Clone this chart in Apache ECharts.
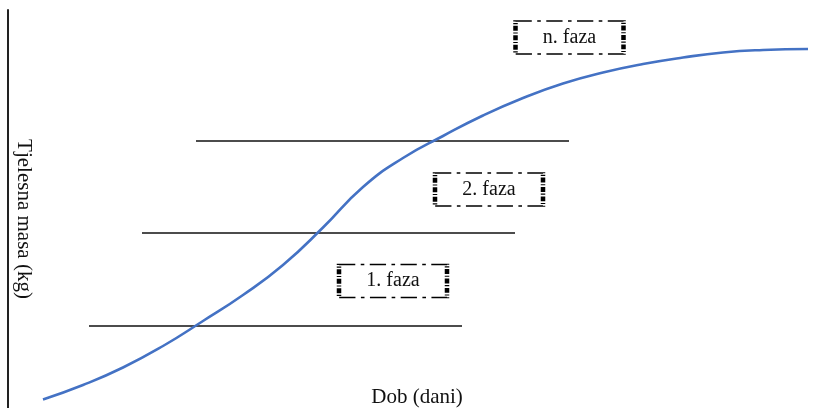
<!DOCTYPE html>
<html>
<head>
<meta charset="utf-8">
<script src="https://cdn.jsdelivr.net/npm/echarts@6/dist/echarts.min.js"></script>
<style>
html,body{margin:0;padding:0;background:#fff;}
#c{width:826px;height:408px;}
</style>
</head>
<body>
<div id="c"></div>
<script>
// Growth curve: age (x) vs body mass (y), arbitrary units
const curveAge  = [35, 75, 115, 155, 195, 235, 275, 315, 355, 395, 435, 475, 515, 555, 595, 635, 675, 715, 755, 800];
const curveMass = [8.5, 23, 40.5, 62, 87, 113, 143, 180.5, 221, 250, 272, 292.5, 310, 324.5, 335.5, 344, 350.5, 355.5, 358, 359];

// Horizontal phase lines: [startAge, endAge, mass]
const phaseLineStart = [81, 134, 188];
const phaseLineEnd   = [454, 507, 561];
const phaseLineMass  = [82, 175, 267];

// Phase labels: text, centre age, centre mass
const phaseLabels = ['1. faza', '2. faza', 'n. faza'];
const phaseLabelAge  = [385, 481, 561.5];
const phaseLabelMass = [127, 218.5, 370.5];

const xName = 'Dob (dani)';
const yName = 'Tjelesna masa (kg)';

const serif = '"Liberation Serif", "DejaVu Serif", serif';

const series = [];
series.push({
  type: 'line',
  data: curveAge.map((a, i) => [a, curveMass[i]]),
  smooth: 0.5,
  showSymbol: false,
  lineStyle: { color: '#4472C4', width: 2.6 },
  z: 3
});
phaseLineMass.forEach((m, i) => {
  series.push({
    type: 'line',
    data: [[phaseLineStart[i], m], [phaseLineEnd[i], m]],
    showSymbol: false,
    lineStyle: { color: '#111', width: 1.3 },
    z: 2
  });
});
series.push({
  type: 'scatter',
  data: phaseLabels.map((t, i) => ({ value: [phaseLabelAge[i], phaseLabelMass[i]], name: t })),
  symbol: 'rect',
  symbolSize: [108, 33],
  itemStyle: {
    color: 'rgba(255,255,255,0)',
    opacity: 1,
    borderColor: '#000',
    borderWidth: 2.5,
    borderType: [9, 3, 2, 3]
  },
  label: {
    show: true,
    position: 'inside',
    formatter: p => p.name,
    color: '#111',
    opacity: 1,
    textBorderWidth: 0,
    fontFamily: serif,
    fontSize: 20
  },
  z: 4
});

const chart = echarts.init(document.getElementById('c'), null, { renderer: 'canvas' });
chart.setOption({
  animation: false,
  backgroundColor: '#fff',
  grid: { left: 8, right: 0, top: 10, bottom: 0, containLabel: false, outerBoundsMode: 'none' },
  xAxis: {
    type: 'value', min: 0, max: 818,
    axisLine: { show: false }, axisTick: { show: false }, axisLabel: { show: false }, splitLine: { show: false },
    name: xName, nameLocation: 'middle', nameGap: -21,
    nameTextStyle: { fontFamily: serif, fontSize: 21, color: '#111' }
  },
  yAxis: {
    type: 'value', min: 0, max: 398,
    axisLine: { show: true, lineStyle: { color: '#222', width: 2 } },
    axisTick: { show: false }, axisLabel: { show: false }, splitLine: { show: false },
    name: yName, nameLocation: 'middle', nameRotate: -90, nameGap: -26,
    nameTextStyle: { fontFamily: serif, fontSize: 21, color: '#111', padding: [0, 0, 0, 20] }
  },
  series: series
});
</script>
</body>
</html>
